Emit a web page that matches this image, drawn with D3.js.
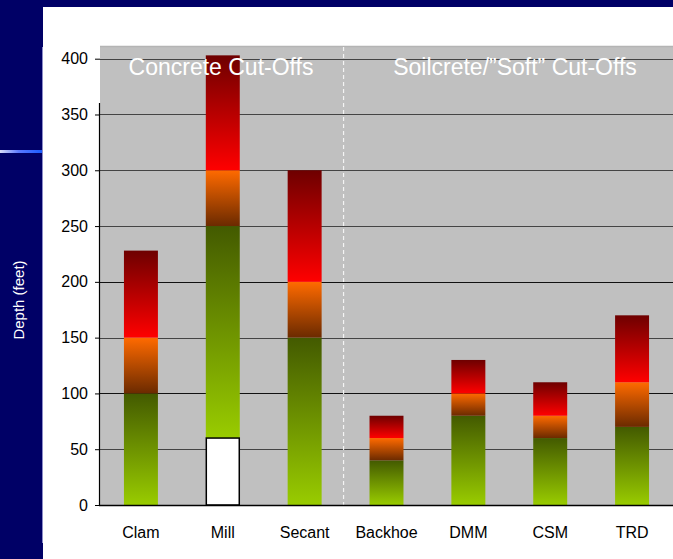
<!DOCTYPE html>
<html>
<head>
<meta charset="utf-8">
<script src="https://cdnjs.cloudflare.com/ajax/libs/d3/7.8.5/d3.min.js"></script>
<style>
  body { margin: 0; background: #000066; }
  svg { display: block; }
  .tick text { font-family: "Liberation Sans", Arial, sans-serif; }
</style>
</head>
<body>
<svg id="chart"></svg>
<script>
// data
var categories = ["Clam", "Mill", "Secant", "Backhoe", "DMM", "CSM", "TRD"];
var baseValues = [0, 60, 0, 0, 0, 0, 0];          // white (unfilled) part at bottom
var greenTop   = [100, 250, 150, 40, 80, 60, 70];
var orangeTop  = [150, 300, 200, 60, 100, 80, 110];
var redTop     = [228, 403, 300, 80, 130, 110, 170];
var yTicks = [0, 50, 100, 150, 200, 250, 300, 350, 400];
var groupTitles = ["Concrete Cut-Offs", "Soilcrete/\u201dSoft\u201d Cut-Offs"];

var width = 673, height = 559;
var plotLeft = 100, plotRight = 673, plotTop = 47, plotBottom = 505;

var svg = d3.select("#chart").attr("width", width).attr("height", height);

// slide background
svg.append("rect").attr("width", width).attr("height", height).attr("fill", "#000066");
svg.append("rect").attr("x", 43).attr("y", 7).attr("width", width - 43).attr("height", height - 7).attr("fill", "#fff");
svg.append("line").attr("x1", 42.5).attr("x2", 42.5).attr("y1", 47).attr("y2", 543)
    .attr("stroke", "#8c8cc8").attr("stroke-width", 1);

var defs = svg.append("defs");
var blueGrad = defs.append("linearGradient").attr("id", "blueLine");
blueGrad.append("stop").attr("offset", "0%").attr("stop-color", "#d8dcf8");
blueGrad.append("stop").attr("offset", "45%").attr("stop-color", "#5a78ff");
blueGrad.append("stop").attr("offset", "100%").attr("stop-color", "#1a5cff");
svg.append("rect").attr("x", 0).attr("y", 150).attr("width", 42).attr("height", 3).attr("fill", "url(#blueLine)");

function addGrad(id, top, bottom) {
    var g = defs.append("linearGradient").attr("id", id)
        .attr("x1", 0).attr("y1", 0).attr("x2", 0).attr("y2", 1);
    g.append("stop").attr("offset", "0%").attr("stop-color", top);
    g.append("stop").attr("offset", "100%").attr("stop-color", bottom);
}
addGrad("gGreen", "#435a00", "#99cc00");
addGrad("gOrange", "#ff6a00", "#6b2a00");
addGrad("gRed", "#6e0000", "#ff0000");

var x = d3.scaleBand().domain(categories).range([plotLeft, plotRight])
    .paddingInner(0.585).paddingOuter(0.2925);
var y = d3.scaleLinear().domain([0, 400]).range([plotBottom, 58.7]);

// plot area
svg.append("rect").attr("x", plotLeft).attr("y", plotTop)
    .attr("width", plotRight - plotLeft).attr("height", plotBottom - plotTop)
    .attr("fill", "#c0c0c0");
svg.append("line").attr("x1", plotLeft).attr("x2", plotRight).attr("y1", plotTop - 0.5).attr("y2", plotTop - 0.5)
    .attr("stroke", "#b4b4b4").attr("stroke-width", 1.5);

// gridlines
svg.append("g").selectAll("line").data(yTicks.slice(1)).enter().append("line")
    .attr("x1", plotLeft).attr("x2", plotRight)
    .attr("y1", function (d) { return Math.round(y(d)) + 0.5; })
    .attr("y2", function (d) { return Math.round(y(d)) + 0.5; })
    .attr("stroke", function (d) { return d % 100 == 0 && d != 400 && d != 300 ? "#111" : "#444"; })
    .attr("stroke-width", 1.2);

// divider between the two groups
var divX = (x("Secant") + x.bandwidth() + x("Backhoe")) / 2 - 2;
svg.append("line").attr("x1", divX).attr("x2", divX).attr("y1", plotTop).attr("y2", plotBottom)
    .attr("stroke", "#f4f4f4").attr("stroke-width", 1.2).attr("stroke-dasharray", "4,3");

// stacked segments
var segs = [];
categories.forEach(function (c, i) {
    segs.push({cat: c, y0: baseValues[i], y1: greenTop[i], fill: "url(#gGreen)"});
    segs.push({cat: c, y0: greenTop[i], y1: orangeTop[i], fill: "url(#gOrange)"});
    segs.push({cat: c, y0: orangeTop[i], y1: redTop[i], fill: "url(#gRed)"});
});

svg.append("g").selectAll("rect").data(segs).enter().append("rect")
    .attr("x", function (d) { return x(d.cat); })
    .attr("y", function (d) { return y(d.y1); })
    .attr("width", x.bandwidth())
    .attr("height", function (d) { return y(d.y0) - y(d.y1); })
    .attr("fill", function (d) { return d.fill; });

// white base boxes (Mill)
svg.append("g").selectAll("rect")
    .data(categories.filter(function (c, i) { return baseValues[i] > 0; }))
    .enter().append("rect")
    .attr("x", function (d) { return x(d) + 0.5; })
    .attr("y", function (d) { return y(baseValues[categories.indexOf(d)]); })
    .attr("width", x.bandwidth() - 1)
    .attr("height", function (d) { return y(0) - y(baseValues[categories.indexOf(d)]); })
    .attr("fill", "#fff").attr("stroke", "#000").attr("stroke-width", 1.5);

// group titles (on top of bars)
var titleX = [221, 515];
svg.append("g").selectAll("text").data(groupTitles).enter().append("text")
    .attr("x", function (d, i) { return titleX[i]; })
    .attr("y", 75)
    .attr("text-anchor", "middle")
    .attr("fill", "#fff")
    .style("font-family", "Liberation Sans, Arial, sans-serif")
    .style("font-size", "23px")
    .text(function (d) { return d; });

// y axis
var yAxis = svg.append("g").attr("transform", "translate(" + plotLeft + ",0)")
    .call(d3.axisLeft(y).tickValues(yTicks).tickSize(5).tickPadding(7));
yAxis.select(".domain").remove();
yAxis.selectAll(".tick line").attr("stroke", "#000");
yAxis.selectAll(".tick text").attr("fill", "#000").style("font-size", "16px");
svg.append("line").attr("x1", plotLeft - 0.5).attr("x2", plotLeft - 0.5).attr("y1", 103).attr("y2", plotBottom)
    .attr("stroke", "#000").attr("stroke-width", 1.2);
svg.append("line").attr("x1", plotLeft - 1).attr("x2", plotRight).attr("y1", plotBottom + 0.5).attr("y2", plotBottom + 0.5)
    .attr("stroke", "#000").attr("stroke-width", 1.5);

// x axis labels
var xAxis = svg.append("g").attr("transform", "translate(0," + plotBottom + ")")
    .call(d3.axisBottom(x).tickSize(0).tickPadding(22));
xAxis.select(".domain").remove();
xAxis.selectAll(".tick text").attr("fill", "#000").style("font-size", "16px");

// y axis title
svg.append("text")
    .attr("transform", "translate(24,300) rotate(-90)")
    .attr("text-anchor", "middle")
    .attr("fill", "#fff")
    .style("font-family", "Liberation Sans, Arial, sans-serif")
    .style("font-size", "15px")
    .text("Depth (feet)");
</script>
</body>
</html>
